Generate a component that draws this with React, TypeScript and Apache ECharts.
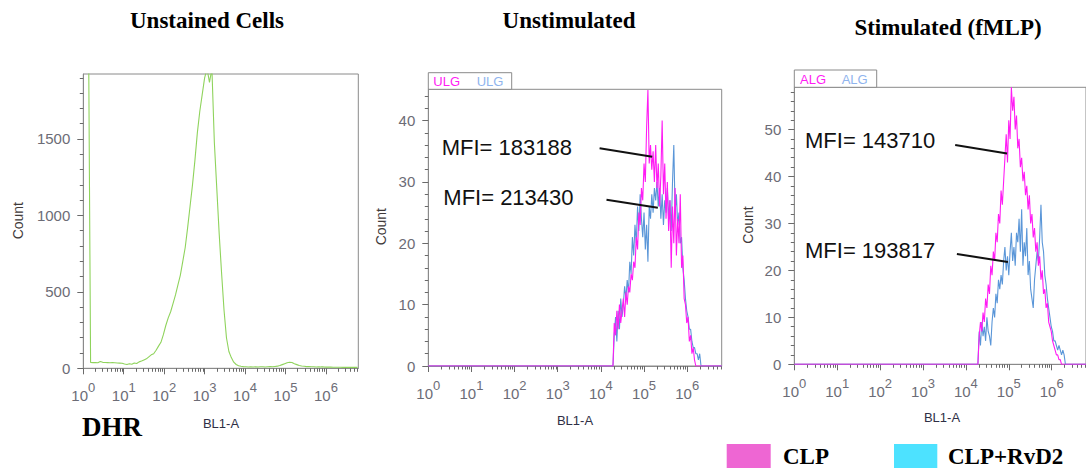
import React, { useEffect, useRef } from "react";
import * as echarts from "echarts";

// ---------- shared axis data ----------
const decadeTicks = [0, 1, 2, 3, 4, 5, 6];
const xMax = 6.8;

// ---------- Panel 1: Unstained Cells (log10 BL1-A bins) ----------
const p1Start = 0.12;
const p1Step = 0.06;
const p1Counts = [
  2600, 38, 37, 38, 36, 44, 39, 38, 37, 36, 37, 36, 35, 34, 33, 28, 25, 30, 27, 35,
  31, 42, 48, 55, 62, 75, 88, 95, 118, 145, 170, 220, 280, 330, 370, 425, 480, 545, 610, 700,
  790, 920, 1060, 1200, 1360, 1540, 1680, 1790, 1900, 1960, 1870, 1960, 1480, 1180, 880, 620, 380, 200, 110, 70,
  40, 25, 17, 13, 11, 10, 9, 10, 9, 10, 9, 10, 10, 9, 10, 11, 10, 12, 14, 18,
  24, 30, 36, 40, 38, 30, 24, 18, 15, 13, 11, 11, 10, 10, 9, 10, 9, 9, 8, 8,
  8, 7, 7, 7, 7, 6, 7, 6, 6, 6, 6, 6,
];
const p1YMax = 1925;
const p1YTicks = [0, 500, 1000, 1500];

// ---------- Panels 2 & 3 share bins ----------
const hStart = 4.28;
const hStep = 0.03;

// Panel 2: Unstimulated
const p2Clp = [
  0, 7, 5, 9, 6, 10, 7, 9, 11, 8, 12, 10, 13, 12, 15, 14, 17, 16, 21, 19,
  25, 23, 29, 27, 33, 30, 39, 45, 33, 36, 32, 35, 30, 36, 29, 33, 26, 31, 40, 28,
  33, 24, 30, 22, 27, 16, 26, 20, 29, 18, 24, 20, 28, 16, 18, 11, 10, 7, 8, 4,
  5, 2, 3, 1, 0, 0, 0, 0, 0, 0,
];
const p2Rvd2 = [
  0, 5, 8, 4, 9, 6, 11, 8, 10, 13, 11, 14, 12, 17, 15, 21, 18, 23, 20, 26,
  22, 28, 24, 21, 25, 19, 23, 17, 26, 24, 28, 25, 29, 27, 30, 26, 29, 24, 28, 23,
  27, 25, 29, 24, 27, 22, 30, 36, 25, 28, 23, 25, 20, 21, 16, 14, 11, 9, 8, 6,
  6, 4, 3, 3, 2, 2, 1, 2, 0, 0,
];
const p2YMax = 45.1;
const p2YTicks = [0, 10, 20, 30, 40];

// Panel 3: Stimulated (fMLP)
const p3Clp = [
  0, 6, 9, 7, 11, 9, 14, 12, 17, 15, 21, 19, 24, 22, 28, 26, 32, 30, 37, 34,
  39, 44, 49, 43, 52, 48, 59, 54, 57, 50, 53, 46, 48, 42, 44, 39, 41, 36, 38, 33,
  36, 30, 32, 27, 29, 24, 26, 21, 23, 18, 20, 15, 16, 12, 13, 9, 8, 7, 5, 4,
  3, 2, 2, 1, 1, 0, 0, 0, 0, 0,
];
const p3Rvd2 = [
  0, 7, 4, 9, 6, 8, 5, 10, 7, 6, 4, 9, 12, 10, 15, 13, 18, 16, 19, 17,
  22, 25, 20, 23, 19, 24, 28, 22, 25, 21, 28, 26, 31, 24, 33, 21, 26, 23, 29, 19,
  22, 16, 14, 12, 18, 21, 24, 22, 27, 34, 26, 24, 19, 17, 14, 12, 10, 8, 7, 5,
  5, 4, 3, 4, 3, 2, 3, 2, 0, 0,
];
const p3YMax = 59;
const p3YTicks = [0, 10, 20, 30, 40, 50];

// callout lines [x1, y1, x2, y2] in data units (log10 BL1-A, Count)
const p2Callouts = [
  [3.97, 35.5, 5.19, 34.1],
  [4.13, 27.1, 5.32, 25.8],
];
const p3Callouts = [
  [3.75, 46.7, 4.96, 44.9],
  [3.79, 23.5, 4.98, 21.8],
];
const p2Labels = ["MFI= 183188", "MFI= 213430"];
const p3Labels = ["MFI= 143710", "MFI= 193817"];

const titles = ["Unstained Cells", "Unstimulated", "Stimulated (fMLP)"];
const legendNames = ["CLP", "CLP+RvD2"];

// ---------- styles ----------
const SANS = '"Liberation Sans", Arial, Helvetica, sans-serif';
const SERIF = '"Liberation Serif", "Times New Roman", serif';
const PINK = "#ff1cf4";
const BLUE = "#5a96d8";
const GREEN = "#8fd35c";
const LBL = "#6c6c76";
const AX = "#8a8a8a";
const TICK = "#6a6a6a";

function minorLog(): number[] {
  const out: number[] = [];
  for (let d = 0; d <= 6; d++) {
    for (let k = 2; k <= 9; k++) {
      const v = d + Math.log10(k);
      if (v < xMax) out.push(+v.toFixed(4));
    }
  }
  return out;
}
function minorLin(max: number, step: number, major: number): number[] {
  const out: number[] = [];
  for (let v = step; v < max; v += step) {
    if (Math.abs(v / major - Math.round(v / major)) > 1e-6) out.push(v);
  }
  return out;
}
function bins(start: number, step: number, vals: number[], pad: boolean) {
  const d = vals.map((c, i) => [+(start + i * step).toFixed(4), c]);
  if (pad) return [[0, 0], ...d, [xMax, 0]];
  return d;
}

export default function App() {
  const ref = useRef<HTMLDivElement>(null);
  useEffect(() => {
    if (!ref.current) return;
    const chart = echarts.init(ref.current, null, { renderer: "svg" });

    const grids = [
      { left: 83.3, top: 74, width: 275, height: 294.3 },
      { left: 428.3, top: 89.3, width: 293.4, height: 276.7 },
      { left: 794.3, top: 87.3, width: 293.6, height: 277 },
    ];
    const yMaxes = [p1YMax, p2YMax, p3YMax];
    const yTicks = [p1YTicks, p2YTicks, p3YTicks];
    const yMinor = [minorLin(p1YMax, 100, 500), minorLin(p2YMax, 2, 10), minorLin(p3YMax, 2, 10)];
    const xMinor = minorLog();

    const xAxis: any[] = [];
    const yAxis: any[] = [];
    grids.forEach((_, g) => {
      xAxis.push({
        type: "value", gridIndex: g, min: 0, max: xMax, interval: 1, position: "bottom",
        axisLine: { show: true, lineStyle: { color: AX, width: 1 } },
        axisTick: { show: true, length: 6, customValues: decadeTicks, lineStyle: { color: TICK } },
        axisLabel: {
          customValues: decadeTicks, margin: 13, fontSize: 15, color: LBL,
          formatter: (v: number) => `{b|10}{s|${Math.round(v)}}`,
          rich: {
            b: { fontSize: 15, color: LBL, fontFamily: SANS, lineHeight: 22, verticalAlign: "bottom" },
            s: { fontSize: 13, color: LBL, fontFamily: SANS, verticalAlign: "top" },
          },
        },
        splitLine: { show: false },
      });
      xAxis.push({
        type: "value", gridIndex: g, min: 0, max: xMax, position: "bottom",
        axisLine: { show: false },
        axisTick: { show: true, length: 3.5, customValues: xMinor, lineStyle: { color: TICK } },
        axisLabel: { show: false },
        splitLine: { show: false },
      });
      yAxis.push({
        type: "value", gridIndex: g, min: 0, max: yMaxes[g], position: "left",
        axisLine: { show: true, lineStyle: { color: AX, width: 1 } },
        axisTick: { show: true, length: 6, customValues: yTicks[g], lineStyle: { color: TICK } },
        axisLabel: {
          customValues: yTicks[g], margin: 13, fontSize: 15, color: LBL, fontFamily: SANS,
          formatter: (v: number) => String(v),
        },
        splitLine: { show: false },
      });
      yAxis.push({
        type: "value", gridIndex: g, min: 0, max: yMaxes[g], position: "left",
        axisLine: { show: false },
        axisTick: { show: true, length: 3.5, customValues: yMinor[g], lineStyle: { color: TICK } },
        axisLabel: { show: false },
        splitLine: { show: false },
      });
    });

    const lineSeries = (g: number, data: any, color: string, extra: any = {}) => ({
      type: "line", xAxisIndex: 2 * g, yAxisIndex: 2 * g, data,
      showSymbol: false, symbol: "none", clip: true, silent: true,
      lineStyle: { color, width: 1.1 }, emphasis: { disabled: true }, z: 3,
      ...extra,
    });
    const callouts = (arr: number[][]) => ({
      silent: true, symbol: ["none", "none"], label: { show: false },
      lineStyle: { color: "#111", width: 2, type: "solid" },
      emphasis: { disabled: true },
      data: arr.map((c) => [{ coord: [c[0], c[1]] }, { coord: [c[2], c[3]] }]),
    });

    const series: any[] = [
      lineSeries(0, bins(p1Start, p1Step, p1Counts, false), GREEN),
      lineSeries(1, bins(hStart, hStep, p2Rvd2, true), BLUE),
      lineSeries(1, bins(hStart, hStep, p2Clp, true), PINK, { markLine: callouts(p2Callouts) }),
      lineSeries(2, bins(hStart, hStep, p3Rvd2, true), BLUE),
      lineSeries(2, bins(hStart, hStep, p3Clp, true), PINK, { markLine: callouts(p3Callouts) }),
    ];

    const txt = (text: string, x: number, y: number, font: any, extra: any = {}) => ({
      type: "text", x, y, silent: true,
      style: { text, fill: "#000", align: "left", verticalAlign: "middle", ...font },
      ...extra,
    });
    const serifB = (size: number) => ({ fontFamily: SERIF, fontWeight: "bold", fontSize: size });
    const sans = (size: number, color: string) => ({ fontFamily: SANS, fontSize: size, fill: color });

    const graphic: any[] = [
      txt(titles[0], 207, 20.5, { ...serifB(23), align: "center" }),
      txt(titles[1], 569, 20.5, { ...serifB(23), align: "center" }),
      txt(titles[2], 948, 27.5, { ...serifB(23), align: "center" }),
      txt("DHR", 82, 427, serifB(27)),
      // axis names
      txt("Count", 18, 220.7, { ...sans(14, "#3f3a3a"), align: "center" }, { rotation: Math.PI / 2 }),
      txt("Count", 381, 226.7, { ...sans(14, "#3f3a3a"), align: "center" }, { rotation: Math.PI / 2 }),
      txt("Count", 748, 225, { ...sans(14, "#3f3a3a"), align: "center" }, { rotation: Math.PI / 2 }),
      txt("BL1-A", 221, 423, { ...sans(13, "#2f2f45"), align: "center" }),
      txt("BL1-A", 575, 420.5, { ...sans(13, "#2f2f45"), align: "center" }),
      txt("BL1-A", 942, 417.5, { ...sans(13, "#2f2f45"), align: "center" }),
      // gate header boxes
      { type: "rect", silent: true, shape: { x: 428.3, y: 72.7, width: 83.4, height: 16.6 }, style: { fill: "#fff", stroke: "#8a8a8a", lineWidth: 1 } },
      txt("ULG", 433.3, 81.3, sans(13, PINK)),
      txt("ULG", 476.7, 81.3, sans(13, "#8fb4ee")),
      { type: "rect", silent: true, shape: { x: 794.3, y: 70, width: 82.4, height: 17.3 }, style: { fill: "#fff", stroke: "#8a8a8a", lineWidth: 1 } },
      txt("ALG", 800, 79.3, sans(13, PINK)),
      txt("ALG", 841.7, 79.3, sans(13, "#8fb4ee")),
      // MFI labels
      txt(p2Labels[0], 441.7, 147.3, sans(22, "#111")),
      txt(p2Labels[1], 443.3, 197.3, sans(22, "#111")),
      txt(p3Labels[0], 805, 140, sans(22, "#111")),
      txt(p3Labels[1], 805, 250.7, sans(22, "#111")),
      // legend
      { type: "rect", silent: true, shape: { x: 726.7, y: 444, width: 44, height: 30 }, style: { fill: "#ee66d3" } },
      txt(legendNames[0], 783, 456, serifB(23)),
      { type: "rect", silent: true, shape: { x: 894, y: 444, width: 43.3, height: 30 }, style: { fill: "#4de2ff" } },
      txt(legendNames[1], 948, 456, serifB(23)),
    ];

    chart.setOption({
      animation: false,
      backgroundColor: "#ffffff",
      grid: grids.map((g) => ({ ...g, show: true, borderColor: AX, borderWidth: 1, backgroundColor: "transparent" })),
      xAxis,
      yAxis,
      series,
      graphic,
    });
    return () => chart.dispose();
  }, []);

  return (
    <div
      ref={ref}
      style={{ position: "fixed", left: 0, top: 0, width: 1086, height: 468, background: "#fff" }}
    />
  );
}
